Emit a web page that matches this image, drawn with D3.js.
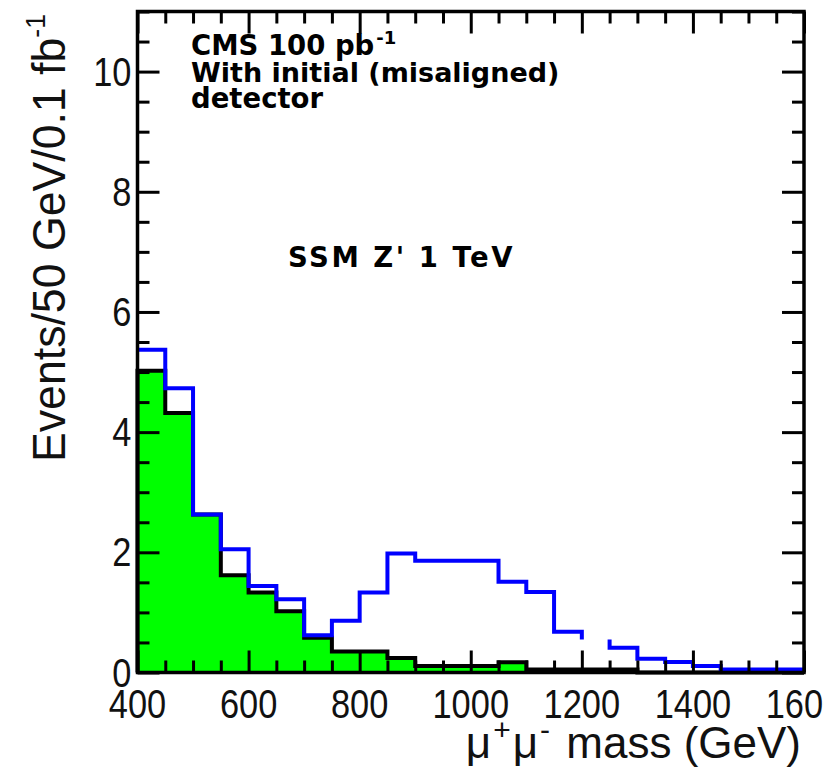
<!DOCTYPE html>
<html><head><meta charset="utf-8">
<script src="https://cdn.jsdelivr.net/npm/d3@7"></script>
<style>html,body{margin:0;padding:0;background:#fff;} svg{display:block}</style>
</head><body>
<svg id="c" width="831" height="771"></svg>
<script>
// ---- data ----
const binLow = [400,450,500,550,600,650,700,750,800,850,900,950,1000,1050,1100,1150,1200,1250,1300,1350,1400,1450,1500,1550];
const binWidth = 50;
// Drell-Yan background (green filled, black outline)
const bkgValues = [5.02,4.32,2.63,1.62,1.33,1.02,0.58,0.35,0.35,0.24,0.11,0.11,0.11,0.17,0.05,0.05,0.05,0.05,0,0,0,0,0,0];
// signal (SSM Z' 1 TeV) + background (blue line)
const sigBkgValues = [5.37,4.73,2.63,2.05,1.44,1.22,0.62,0.86,1.33,1.98,1.86,1.86,1.86,1.51,1.34,0.68,0,0.41,0.23,0.175,0.11,0.05,0.05,0.05];
const xTickMajor = [400,600,800,1000,1200,1400,1600];
const xTickLabels = ["400","600","800","1000","1200","1400","1600"];
const yTickMajor = [0,2,4,6,8,10];
const yTickLabels = ["0","2","4","6","8","10"];
const xMinorStep = 50, yMinorStep = 0.5;
const xDomain = [400,1600], yDomain = [0,11];
const blueGapFloor = 0.55;

// ---- layout ----
const svg = d3.select("#c");
const L = 137.5, R = 804, T = 11.5, B = 672.5;
const x = d3.scaleLinear().domain(xDomain).range([L, R]);
const y = d3.scaleLinear().domain(yDomain).range([B, T]);

// green filled background
const stepPts = vals => {
  const pts = [[binLow[0], 0]];
  vals.forEach((v,i) => { pts.push([binLow[i], v]); pts.push([binLow[i]+binWidth, v]); });
  pts.push([binLow[binLow.length-1]+binWidth, 0]);
  return pts;
};
const bkgPts = stepPts(bkgValues);
svg.append("path")
  .attr("d", d3.area().x(d=>x(d[0])).y0(y(0)).y1(d=>y(d[1]))(bkgPts))
  .attr("fill", "#00ff00");
svg.append("path")
  .attr("d", d3.line().x(d=>x(d[0])).y(d=>y(d[1]))(bkgPts))
  .attr("fill", "none").attr("stroke", "#000").attr("stroke-width", 4);

// blue signal + background line, broken at empty bins
const segs = [];
let cur = null;
sigBkgValues.forEach((v,i) => {
  const x0 = binLow[i], x1 = binLow[i]+binWidth;
  if (v > 0) {
    if (!cur) {
      cur = [];
      if (i > 0) cur.push([x0, blueGapFloor]);
    }
    cur.push([x0, v]); cur.push([x1, v]);
    const nxt = sigBkgValues[i+1];
    if (nxt !== undefined && nxt <= 0) { cur.push([x1, blueGapFloor]); segs.push(cur); cur = null; }
  }
});
if (cur) segs.push(cur);
segs.forEach(s => svg.append("path")
  .attr("d", d3.line().x(d=>x(d[0])).y(d=>y(d[1]))(s))
  .attr("fill", "none").attr("stroke", "#0000ff").attr("stroke-width", 4));

// ticks (inside) on all four sides
const xMinor = d3.range(xDomain[0], xDomain[1]+1, xMinorStep).filter(v => !xTickMajor.includes(v));
const yMinor = d3.range(yDomain[0], yDomain[1]+0.001, yMinorStep).filter(v => !yTickMajor.includes(v));
function ticks(axisFn, scale, vals, len, tr) {
  const g = svg.append("g").attr("transform", tr)
    .call(axisFn(scale).tickValues(vals).tickSize(-len).tickFormat(""));
  g.select(".domain").remove();
  g.selectAll("line").attr("stroke", "#000").attr("stroke-width", 3);
}
ticks(d3.axisBottom, x, xMinor, 12, `translate(0,${B})`);
ticks(d3.axisBottom, x, xTickMajor, 22, `translate(0,${B})`);
ticks(d3.axisTop, x, xMinor, 12, `translate(0,${T})`);
ticks(d3.axisTop, x, xTickMajor, 22, `translate(0,${T})`);
ticks(d3.axisLeft, y, yMinor, 12, `translate(${L},0)`);
ticks(d3.axisLeft, y, yTickMajor, 22, `translate(${L},0)`);
ticks(d3.axisRight, y, yMinor, 12, `translate(${R},0)`);
ticks(d3.axisRight, y, yTickMajor, 22, `translate(${R},0)`);

// frame
svg.append("rect").attr("x", L).attr("y", T).attr("width", R-L).attr("height", B-T)
  .attr("fill", "none").attr("stroke", "#000").attr("stroke-width", 3.5);

// tick labels (narrow Helvetica look)
const numFont = "'Liberation Sans', Arial, Helvetica, sans-serif";
svg.append("defs").append("clipPath").attr("id", "pageclip")
  .append("rect").attr("x", -1000).attr("y", -100).attr("width", 1000 + 824).attr("height", 1000);
svg.append("g").attr("clip-path", "url(#pageclip)")
  .selectAll("text").data(xTickMajor).join("text")
  .attr("transform", d => `translate(${x(d)},${B + 45.5}) scale(0.86,1)`)
  .attr("text-anchor", "middle").attr("font-family", numFont).attr("font-size", 40)
  .attr("fill", "#111").text((d,i) => xTickLabels[i]);
svg.append("g").selectAll("text").data(yTickMajor).join("text")
  .attr("transform", d => `translate(${L - 6},${y(d) + 14}) scale(0.86,1)`)
  .attr("text-anchor", "end").attr("font-family", numFont).attr("font-size", 40)
  .attr("fill", "#111").text((d,i) => yTickLabels[i]);

// axis titles
const yt = svg.append("text").attr("transform", "translate(65,462) rotate(-90) scale(0.95,1)")
  .attr("font-family", numFont).attr("font-size", 47).attr("fill", "#111");
yt.append("tspan").text("Events/50 GeV/0.1 fb");
yt.append("tspan").attr("font-size", 28).attr("dy", -20).text("-1");

const xt = svg.append("text").attr("x", 801).attr("y", 758).attr("text-anchor", "end")
  .attr("font-family", numFont).attr("font-size", 44).attr("fill", "#111");
xt.append("tspan").text("μ");
xt.append("tspan").attr("font-size", 30).attr("dy", -18).attr("dx", 2).text("+");
xt.append("tspan").attr("dy", 18).attr("dx", 2).text("μ");
xt.append("tspan").attr("font-size", 30).attr("dy", -18).attr("dx", 2).text("-");
xt.append("tspan").attr("dy", 18).attr("dx", 4).text(" mass (GeV)");

// annotations
const annFont = "'DejaVu Sans', sans-serif";
const a1 = svg.append("text").attr("x", 191).attr("y", 55)
  .attr("font-family", annFont).attr("font-weight", "bold").attr("font-size", 27.5);
a1.append("tspan").text("CMS 100 pb");
a1.append("tspan").attr("font-size", 18).attr("dy", -11).attr("dx", 2).text("-1");
svg.append("text").attr("x", 191).attr("y", 82)
  .attr("font-family", annFont).attr("font-weight", "bold").attr("font-size", 27)
  .text("With initial (misaligned)");
svg.append("text").attr("x", 191).attr("y", 108)
  .attr("font-family", annFont).attr("font-weight", "bold").attr("font-size", 27.5)
  .text("detector");
svg.append("text").attr("x", 288).attr("y", 267)
  .attr("font-family", annFont).attr("font-weight", "bold").attr("font-size", 27.5)
  .attr("letter-spacing", 2.5)
  .text("SSM Z' 1 TeV");
</script>
</body></html>
